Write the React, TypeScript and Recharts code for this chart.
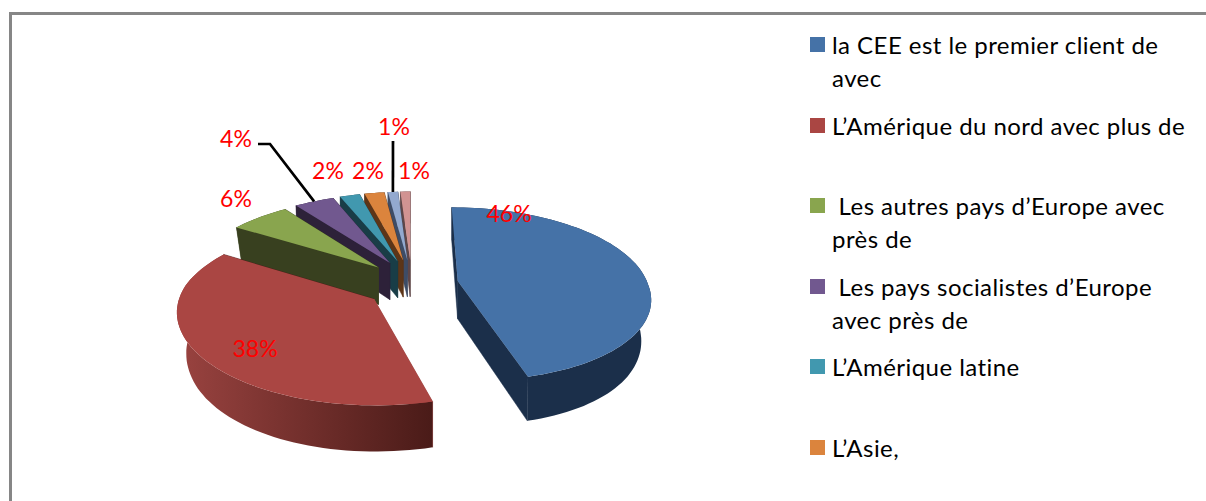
import * as React from "react";
import { Legend, Pie, PieChart } from "recharts";

const categories = [
  "la CEE est le premier client de avec",
  "L’Amérique du nord avec plus de",
  " Les autres pays d’Europe avec près de",
  " Les pays socialistes d’Europe avec près de",
  "L’Amérique latine",
  "L’Asie,",
  "",
  "",
];
const shares = [46, 38, 6, 4, 2, 2, 1, 1];
const topColors = ["#4572A7", "#AA4643", "#89A54E", "#71588F", "#4198AF", "#DB843D", "#93A9CF", "#D19392"];
const wallColors = ["#1B2F4A", "#9A4340", "#38401F", "#2D2139", "#193D47", "#5C3518", "#3E4C66", "#5E4648"];
const wallEndColors = ["#1B2F4A", "#4A1B18", "#38401F", "#2D2139", "#193D47", "#5C3518", "#3E4C66", "#5E4648"];

// hand-placed data labels, [x, y] of the text centre
const labelSpots = [
  [509, 213], [255, 348], [236, 198], [236, 138],
  [328, 170], [368, 170], [394, 126], [414, 170],
];
// bent leader lines run from these points to the rim of the slice
const leaderStarts: Record<number, number[][]> = {
  3: [[258, 144], [270, 144]],
  6: [[393, 141]],
};

const CENTER_X = 411.6;
const CENTER_Y = 284;
const RADIUS = 190;
const SQUASH = 0.45; // vertical tilt of the disc
const PERSPECTIVE = 0.15; // far side shrinks, near side grows
const NEAR_LEAN = 7; // near half leans right a little
const EXPLODE_X = 0.246;
const EXPLODE_Y = 0.29;
const DEPTH = 38;
const BASE_TAPER = 0.028; // underside is a bit narrower at the sides

const rad = (deg: number) => (deg * Math.PI) / 180;

// plan position on the disc (unit radius) to screen position
function project(u: number, v: number, drop = 0) {
  const w = 1 + PERSPECTIVE * v;
  const lean = v < 0 ? -NEAR_LEAN * v : 0;
  const taper = drop ? 1 - BASE_TAPER * u * u : 1;
  return {
    x: CENTER_X + (RADIUS * u * taper + lean) / w,
    y: CENTER_Y - (SQUASH * RADIUS * v) / w + drop / w,
  };
}

function sliceOrigin(midAngle: number) {
  return {
    u: EXPLODE_X * Math.cos(rad(midAngle)),
    v: EXPLODE_Y * Math.sin(rad(midAngle)),
  };
}

const toPath = (pts: { x: number; y: number }[]) =>
  "M" + pts.map((p) => `${p.x.toFixed(1)},${p.y.toFixed(1)}`).join("L") + "Z";

function Slice3D(props: any) {
  const { startAngle, endAngle, fill } = props;
  const wall = props.wall ?? props.payload?.wall;
  const wallEnd = props.wallEnd ?? props.payload?.wallEnd;
  const mid = (startAngle + endAngle) / 2;
  const o = sliceOrigin(mid);

  const rim: { u: number; v: number }[] = [];
  const steps = Math.max(2, Math.ceil((endAngle - startAngle) / 2));
  for (let i = 0; i <= steps; i++) {
    const a = rad(startAngle + ((endAngle - startAngle) * i) / steps);
    rim.push({ u: o.u + Math.cos(a), v: o.v + Math.sin(a) });
  }
  const top = rim.map((p) => project(p.u, p.v));
  const bottom = rim.map((p) => project(p.u, p.v, DEPTH));
  const apexTop = project(o.u, o.v);
  const apexBottom = project(o.u, o.v, DEPTH);
  const gradId = `wall-${Math.round(startAngle)}`;
  const last = rim.length - 1;

  return (
    <g>
      <defs>
        <linearGradient id={gradId} x1="0" y1="0" x2="1" y2="0">
          <stop offset="0" stopColor={wall} />
          <stop offset="1" stopColor={wallEnd} />
        </linearGradient>
      </defs>
      <path d={toPath([apexTop, top[0], bottom[0], apexBottom])} fill={wallEnd} stroke={wallEnd} strokeWidth={0.5} />
      <path d={toPath([apexTop, top[last], bottom[last], apexBottom])} fill={wall} stroke={wall} strokeWidth={0.5} />
      <path d={toPath([...top, ...bottom.slice().reverse()])} fill={`url(#${gradId})`} />
      <path d={toPath([apexTop, ...top])} fill={fill} />
    </g>
  );
}

function SliceLabel(props: any) {
  const { value, midAngle, spot, leader } = props;
  let line = null;
  if (leader) {
    const o = sliceOrigin(midAngle);
    const a = rad(midAngle);
    const end = project(o.u + Math.cos(a), o.v + Math.sin(a));
    const pts = [...leader, [end.x, end.y]].map((p: number[]) => p.join(",")).join(" ");
    line = <polyline points={pts} fill="none" stroke="#000" strokeWidth={2.7} />;
  }
  return (
    <g>
      {line}
      <text
        x={spot[0]}
        y={spot[1]}
        textAnchor="middle"
        dominantBaseline="central"
        fill="#FF0000"
        fontFamily="Lato"
        fontSize={23}
      >
        {value}%
      </text>
    </g>
  );
}

function LegendList({ payload }: any) {
  const rows = (payload || []).slice().reverse().filter((row: any) => row.value);
  return (
    <div style={{ fontFamily: "Lato", fontSize: 24, letterSpacing: 0.45, lineHeight: "33px", color: "#000", width: 380 }}>
      {rows.map((row: any) => (
        <div key={row.value} style={{ position: "relative", height: 80.5 }}>
          <div style={{ position: "absolute", left: 0, top: 9, width: 15, height: 15, background: row.color }} />
          <div style={{ marginLeft: 22, whiteSpace: "pre-wrap" }}>{row.value}</div>
        </div>
      ))}
    </div>
  );
}

// far slices have to be painted before the near ones, so the pie runs backwards
const pieData = categories
  .map((name, i) => ({
    name,
    value: shares[i],
    fill: topColors[i],
    wall: wallColors[i],
    wallEnd: wallEndColors[i],
    spot: labelSpots[i],
    leader: leaderStarts[i],
  }))
  .reverse();

export default function App() {
  return (
    <div style={{ position: "absolute", left: 0, top: 0, width: 1206, height: 501, overflow: "hidden", background: "#fff" }}>
      <div
        style={{
          position: "absolute",
          left: 9,
          top: 12,
          width: 1400,
          height: 700,
          border: "3px solid #868686",
        }}
      />
      <div style={{ position: "absolute", left: 0, top: 0 }}>
        <PieChart width={1206} height={501}>
          <Pie
            data={pieData}
            dataKey="value"
            nameKey="name"
            cx={CENTER_X}
            cy={CENTER_Y}
            outerRadius={RADIUS}
            startAngle={90}
            endAngle={450}
            stroke="none"
            shape={Slice3D}
            label={SliceLabel}
            labelLine={false}
            isAnimationActive={false}
          />
          <Legend
            layout="vertical"
            itemSorter={null}
            content={LegendList}
            wrapperStyle={{ left: 810, top: 28, width: 380, bottom: "auto", right: "auto" }}
          />
        </PieChart>
      </div>
    </div>
  );
}
